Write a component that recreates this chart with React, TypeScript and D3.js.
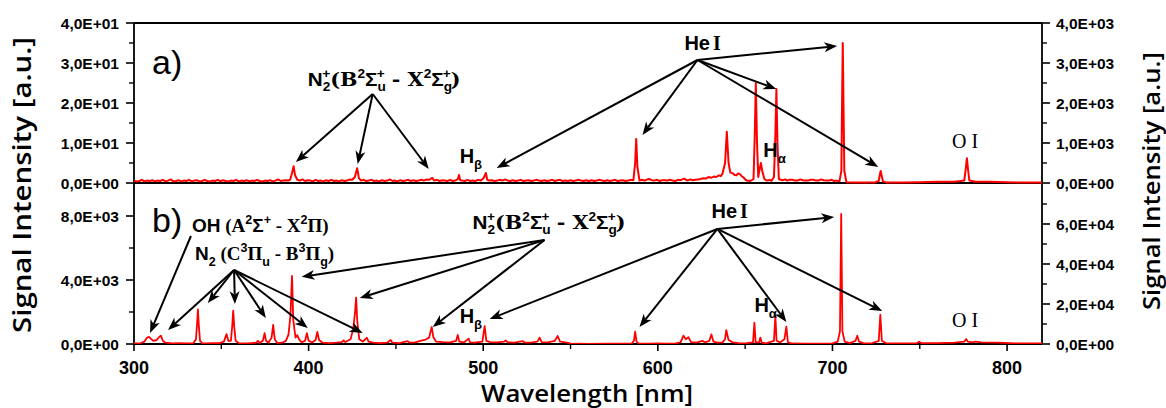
import React from 'react';
import * as d3 from 'd3';

// ---------- axis definitions ----------
const X_DOMAIN: [number, number] = [300, 820];
const X_TICKS = [300, 400, 500, 600, 700, 800];
const X_MINOR = [350, 450, 550, 650, 750];
const A_LEFT_DOMAIN: [number, number] = [0, 40];
const A_LEFT_TICKS = [0, 10, 20, 30, 40];
const A_LEFT_MINOR = [5, 15, 25, 35];
const A_RIGHT_DOMAIN: [number, number] = [0, 4000];
const A_RIGHT_TICKS = [0, 1000, 2000, 3000, 4000];
const A_RIGHT_MINOR = [500, 1500, 2500, 3500];
const B_LEFT_DOMAIN: [number, number] = [0, 10000];
const B_LEFT_TICKS = [0, 4000, 8000];
const B_LEFT_MINOR = [2000, 6000];
const B_RIGHT_DOMAIN: [number, number] = [0, 80000];
const B_RIGHT_TICKS = [0, 20000, 40000, 60000];
const B_RIGHT_MINOR = [10000, 30000, 50000, 70000];

// ---------- spectrum a) (left axis units) ----------
const SPEC_A: [number, number][] = [
  [300,0.6],[301.5,0.4],[303,0.5],[304.5,0.8],[306,0.4],[307.5,0.6],[309,0.5],[310.5,0.7],[312,0.4],[313.5,0.6],
  [315,0.5],[316.5,0.8],[318,0.4],[319.5,0.6],[321,0.9],[322.5,0.4],[324,0.5],[325.5,0.7],[327,0.4],[328.5,0.6],
  [330,0.5],[331.5,0.8],[333,0.4],[334.5,0.6],[336,0.7],[337.5,0.4],[339,0.5],[340.5,0.8],[342,0.5],[343.5,0.4],
  [345,0.6],[346.5,0.5],[348,0.8],[349.5,0.4],[351,0.7],[352.5,0.5],[354,0.4],[355.5,0.6],[357,0.5],[358.5,0.8],
  [360,0.4],[361.5,0.6],[363,0.5],[364.5,0.7],[366,0.4],[367.5,0.6],[369,0.5],[370.5,0.8],[372,0.5],[373.5,0.4],
  [375,0.6],[376.5,0.5],[378,0.7],[379.5,0.4],[381,0.6],[382.5,0.9],[384,0.5],[385.5,0.6],[387,0.7],[388.5,0.6],
  [389.5,0.9],[390.5,2.5],[391.4,4.2],[392.2,2.0],[393.5,0.8],[395,0.6],[396.5,0.9],[398,0.5],[399.5,0.7],[401,0.6],
  [402.5,0.4],[404,0.8],[405.5,0.5],[407,0.6],[408.5,0.4],[410,0.7],[411.5,0.5],[413,0.8],[414.5,0.5],[416,0.6],
  [417.5,0.4],[419,0.7],[420.5,0.5],[422,0.6],[423.5,0.9],[425,0.8],[426.5,1.5],[427.8,3.7],[428.8,1.2],
  [430,0.6],[431.5,0.8],[433,0.5],[434.5,0.6],[436,0.8],[437.5,0.5],[439,0.6],[440.5,0.4],[442,0.7],[443.5,0.5],
  [445,0.6],[446.5,0.9],[448,0.5],[449.5,0.6],[451,0.4],[452.5,0.7],[454,0.5],[455.5,0.6],[457,0.8],[458.5,0.5],
  [460,0.7],[461.5,0.5],[463,0.6],[464.5,0.8],[466,0.6],[467.5,0.9],[469,0.8],[470.8,1.3],[472,0.6],[473.5,0.8],
  [475,0.5],[476.5,0.7],[478,0.6],[479.5,0.5],[481,0.8],[482.5,0.5],[484,0.6],[485.5,1.0],[486.1,2.0],[486.8,0.7],
  [488,0.6],[489.5,0.5],[491,0.8],[492.5,0.5],[494,0.6],[495.5,0.5],[497,0.8],[498.5,0.6],[500.2,1.2],[501.5,2.5],
  [502.3,0.8],[503.5,0.6],[505,0.7],[506.5,0.5],[508,0.6],[509.5,0.8],[511,0.6],[512.5,0.9],[514,0.6],[515.5,0.5],
  [517,0.7],[518.5,0.5],[520,0.6],[521.5,0.8],[523,0.5],[524.5,0.6],[526,0.7],[527.5,0.5],[529,0.6],[530.5,0.8],
  [532,0.6],[533.5,0.5],[535,0.7],[536.5,0.5],[538,0.6],[539.5,0.8],[541,0.5],[542.5,0.7],[544,0.8],[545.5,0.5],
  [547,0.6],[548.5,0.5],[550,0.7],[551.5,0.5],[553,0.6],[554.5,0.8],[556,0.6],[557.5,0.5],[559,0.7],[560.5,0.5],
  [562,0.7],[563.5,0.5],[565,0.6],[566.5,0.8],[568,0.6],[569.5,0.5],[571,0.7],[572.5,0.5],[574,0.6],[575.5,0.8],
  [577,0.5],[578.5,0.6],[580,0.7],[581.5,0.5],[583,0.6],[584.5,0.8],[586,0.7],[587,5],
  [587.6,11],[588.3,4],[589.5,0.6],[591,0.8],[592.5,0.6],[594,0.9],[595,1.0],[596.5,0.7],[598,0.6],[599.5,0.8],
  [601,0.5],[602.5,0.7],[604,0.7],[605.5,0.6],[607,0.8],[608.5,0.6],[610,0.5],[611.5,0.8],[613,0.7],[615,1.1],
  [617,0.6],[618.5,0.9],[620,0.7],[621.5,0.8],[623,0.9],[624.5,1.0],[626,1.2],[627.5,1.1],[629,1.5],[630.5,1.3],
  [632,1.6],[633.5,1.5],[635,1.9],[636,1.7],[637,2.3],
  [638.5,5],[639.5,12.8],[640.5,5],[641.5,2.6],[643,2.4],[644,2.0],[645,1.9],[646,2.4],[647,2.2],[648,1.7],[649,1.4],
  [650,0.9],[651,0.6],[653,0.5],
  [654.8,1.0],[655.5,12],[656.1,25],[656.8,10],[657.5,1.5],[658.3,3.5],[659,5],[659.8,3],[661,1.0],[662,0.7],[663,0.6],
  [664,0.8],[665,0.5],[666.5,1.5],[667.3,12],[667.9,23.5],[668.5,10],[669.3,1.0],[670.5,0.8],[671.5,0.7],[673,0.9],
  [674,0.6],[675.5,0.8],[677,0.8],[678.5,0.6],[680,0.6],[681.5,0.9],[683,0.7],[684.5,0.6],[686,0.6],[687.5,0.8],
  [689,0.8],[690.5,0.6],[692,0.6],[693.5,0.9],[695,0.7],[696.5,0.6],[698,0.6],[699.5,0.8],[701,0.5],[702.5,0.6],
  [704,0.4],[705.1,3],
  [705.5,20],[705.9,35],[706.3,20],[706.8,3],[708,0.2],[712,0.1],[716,0.1],[720,0.1],[724,0.1],[726.5,0.5],
  [727.1,2.0],[727.6,3],[728.1,2.0],[728.9,0.4],[731,0.1],[740,0.1],[750,0.2],[760,0.3],[770,0.3],
  [775.5,0.6],[776.3,3.5],[777.0,6.2],[777.6,3.5],[778.4,0.6],[782,0.3],[790,0.3],[800,0.2],[810,0.1],[820,0.1]
];

// ---------- spectrum b) (left axis units) ----------
const SPEC_B: [number, number][] = [
  [300,30],[304,60],[306,150],[307.5,400],[308.6,450],[309.5,350],[311,200],[313,250],[314.5,450],[315.4,520],
  [316.5,200],[318,80],[322,40],[326,60],[330,40],[334,60],[335.5,300],[336.2,1400],[336.6,2170],[337.1,1200],
  [337.8,200],[339,60],[341,40],[345,50],[349,60],[351.5,150],[353,620],[354,200],[355.5,200],[356.3,1200],
  [356.8,2080],[357.4,1100],[358.2,200],[360,60],[364,40],[367,60],[370,80],[371,200],[372,60],[373.8,200],
  [374.8,680],[375.6,200],[377,80],[378.8,400],[379.7,1190],[380.6,300],[382,60],[385,80],[387,200],
  [388.5,600],[389.6,1800],[390.5,4250],[391.2,1500],[392.5,400],[393.5,550],[394.5,300],[396,100],[398,200],
  [399,680],[400,200],[402,100],[404,250],[405,750],[406,250],[408,80],[412,60],[416,80],[419,120],[420,220],
  [421,120],[424,300],[425.5,900],[426.6,2000],[427.2,2900],[427.8,1500],[429,300],[431,150],[433.4,390],
  [434.3,150],[437,80],[441,60],[445,80],[447,250],[448,80],[452,60],[456.7,180],[458,80],[461,100],[464,200],
  [467,280],[469,400],[470.5,1060],[471.5,400],[473,150],[477,120],[481,100],[484.5,200],[485.4,560],
  [486.3,150],[489,100],[491.6,330],[492.5,100],[495,80],[499.5,150],[500.8,1120],[501.8,200],[504,120],
  [508,100],[512,150],[512.8,220],[514,100],[518,80],[522.5,180],[524,80],[528,100],[531,150],[532.3,390],
  [533.5,120],[537,100],[541,200],[542.6,500],[544,150],[547,100],[549.4,60],[549.5,10],[555,20],[560,10],
  [570,20],[580,20],[585,20],[586.3,200],[587,770],[587.8,150],[589,20],[595,20],[600,30],[605,20],[610,40],
  [613,100],[614.7,520],[616,300],[617.5,430],[619,120],[622,80],[625.5,200],[627,100],[629.5,200],[630.7,600],
  [631.8,150],[634,80],[637,100],[638.5,300],[639.2,870],[640.5,250],[643,100],[646,60],[650,40],[654.5,100],
  [655.3,1330],[656,100],[658,100],[658.7,400],[659.5,80],[662,40],[666.5,200],[667.3,1770],[668,200],[670,100],
  [672.5,300],[673.6,1080],[674.5,100],[677,30],[685,20],[695,20],[700,40],[703,150],[704.3,800],[705,8125],
  [705.7,800],[707,150],[710,60],[713.2,200],[714.2,520],[715.2,150],[718,40],[722,30],[726.5,200],[727.4,1830],
  [728.3,200],[731,30],[740,30],[748.5,60],[749.7,150],[750.8,60],[760,60],[770,80],[775.6,150],[776.6,310],
  [777.5,150],[780,100],[782,150],[785,100],[795,80],[805,40],[820,30]
];

// ---------- annotations (data coordinates) ----------
const A_N2P_FROM: [number, number] = [436.7, 22.25];
const A_N2P_TO: [number, number][] = [[392.7, 5.25], [428.1, 4.75], [468.8, 3.5]];
const A_HE_FROM: [number, number] = [622.7, 30.75];
const A_HE_TO: [number, number][] = [[507.7, 3.75], [591.2, 12], [667.8, 23.5], [702.7, 34.25], [726.2, 4]];
const B_OH_FROM: [number, number] = [332.6, 6750];
const B_OH_TO: [number, number][] = [[309.2, 690]];
const B_N2_FROM: [number, number] = [357.3, 4625];
const B_N2_TO: [number, number][] = [[319.5, 875], [342.3, 2560], [357.8, 2500], [375.5, 1625], [399.5, 1000], [431.0, 690]];
const B_N2P_FROM: [number, number] = [535.1, 6500];
const B_N2P_TO: [number, number][] = [[396.0, 4200], [429.3, 2875], [471.1, 1060]];
const B_HE_FROM: [number, number] = [634.1, 7190];
const B_HE_TO: [number, number][] = [[503.7, 1560], [589.5, 1060], [673.6, 1375], [701.0, 7940], [728.5, 2060]];

const A_LABEL_PANEL: [number, number] = [310.3, 27.25];
const A_LABEL_N2P: [number, number] = [399.5, 24.25];
const A_LABEL_HE: [number, number] = [615.2, 33.25];
const A_LABEL_HB: [number, number] = [486.5, 5];
const A_LABEL_HA: [number, number] = [660.4, 6.5];
const A_LABEL_OI: [number, number] = [768.5, 8.75];
const B_LABEL_PANEL: [number, number] = [310.3, 7000];
const B_LABEL_OH: [number, number] = [333.2, 7000];
const B_LABEL_N2: [number, number] = [334.9, 5250];
const B_LABEL_N2P: [number, number] = [493.9, 7190];
const B_LABEL_HE: [number, number] = [630.7, 7875];
const B_LABEL_HB: [number, number] = [486.5, 1310];
const B_LABEL_HA: [number, number] = [655.3, 2000];
const B_LABEL_OI: [number, number] = [768.5, 1060];

const SANS = "'Liberation Sans', Arial, sans-serif";
const SERIF = "'DejaVu Serif', 'Liberation Serif', serif";
const SERIF2 = "'Liberation Serif', 'Times New Roman', serif";
const TITLE = "'Open Sans', Lato, sans-serif";

function fmt(v: number): string {
  if (v === 0) return '0,0E+00';
  const [m, e] = v.toExponential(1).split('e');
  const ex = parseInt(e, 10);
  return m.replace('.', ',') + 'E' + (ex < 0 ? '-' : '+') + String(Math.abs(ex)).padStart(2, '0');
}

type Seg = { t: string; f?: 'sans' | 'serif' | 'serif2'; k?: 'sup' | 'sub'; dx?: number };

function Rich({ x, y, segs, size, weight = 'bold', sx = 1 }: { x: number; y: number; segs: Seg[]; size: number; weight?: string; sx?: number }) {
  let cur = 0;
  return (
    <g transform={`translate(${x},${y}) scale(${sx},1)`}>
      <text x={0} y={0} fontSize={size} fontWeight={weight} style={{ whiteSpace: 'pre' }} fill="#000">
        {segs.map((s, i) => {
          const target = s.k === 'sup' ? -size * 0.42 : s.k === 'sub' ? size * 0.3 : 0;
          const dy = target - cur;
          cur = target;
          const fam = s.f === 'serif' ? SERIF : s.f === 'serif2' ? SERIF2 : SANS;
          return (
            <tspan key={i} dy={dy} dx={s.dx || 0} fontFamily={fam} fontSize={s.k ? size * 0.66 : size}>
              {s.t}
            </tspan>
          );
        })}
      </text>
    </g>
  );
}

function Arrow({ x1, y1, x2, y2 }: { x1: number; y1: number; x2: number; y2: number }) {
  const dx = x2 - x1, dy = y2 - y1;
  const len = Math.hypot(dx, dy);
  const ux = dx / len, uy = dy / len;
  const hl = 13, hw = 5;
  const bx = x2 - ux * hl, by = y2 - uy * hl;
  const nx = -uy, ny = ux;
  const mx = x2 - ux * hl * 0.72, my = y2 - uy * hl * 0.72;
  return (
    <g>
      <line x1={x1} y1={y1} x2={mx} y2={my} stroke="#000" strokeWidth={2} />
      <polygon points={`${x2},${y2} ${bx + nx * hw},${by + ny * hw} ${mx},${my} ${bx - nx * hw},${by - ny * hw}`} fill="#000" />
    </g>
  );
}

export default function App() {
  const L = 134, R = 1042, aT = 23, aB = 183, bT = 184, bB = 344;
  const x = d3.scaleLinear().domain(X_DOMAIN).range([L, R]);
  const yA = d3.scaleLinear().domain(A_LEFT_DOMAIN).range([aB, aT]);
  const yAR = d3.scaleLinear().domain(A_RIGHT_DOMAIN).range([aB, aT]);
  const yB = d3.scaleLinear().domain(B_LEFT_DOMAIN).range([bB, bT]);
  const yBR = d3.scaleLinear().domain(B_RIGHT_DOMAIN).range([bB, bT]);
  const lineA = d3.line<[number, number]>().x(d => x(d[0])).y(d => yA(d[1]));
  const lineB = d3.line<[number, number]>().x(d => x(d[0])).y(d => yB(d[1]));

  const leftAxis = (s: d3.ScaleLinear<number, number>, ticks: number[], minor: number[], key: string) => (
    <g key={key}>
      {ticks.map(t => (
        <g key={'t' + t}>
          <line x1={L - 8} x2={L} y1={s(t)} y2={s(t)} stroke="#000" strokeWidth={1.6} />
          <text x={L - 15} y={s(t)} dy="0.36em" textAnchor="end" fontFamily={SANS} fontWeight="bold" fontSize={15.5}>{fmt(t)}</text>
        </g>
      ))}
      {minor.map(t => <line key={'m' + t} x1={L - 5} x2={L} y1={s(t)} y2={s(t)} stroke="#000" strokeWidth={1.4} />)}
    </g>
  );
  const rightAxis = (s: d3.ScaleLinear<number, number>, ticks: number[], minor: number[], key: string) => (
    <g key={key}>
      {ticks.map(t => (
        <g key={'t' + t}>
          <line x1={R} x2={R + 8} y1={s(t)} y2={s(t)} stroke="#000" strokeWidth={1.6} />
          <text x={R + 14} y={s(t)} dy="0.36em" textAnchor="start" fontFamily={SANS} fontWeight="bold" fontSize={15.5}>{fmt(t)}</text>
        </g>
      ))}
      {minor.map(t => <line key={'m' + t} x1={R} x2={R + 5} y1={s(t)} y2={s(t)} stroke="#000" strokeWidth={1.4} />)}
    </g>
  );

  const arrows = (from: [number, number], tos: [number, number][], sy: d3.ScaleLinear<number, number>, key: string) =>
    tos.map((t, i) => <Arrow key={key + i} x1={x(from[0])} y1={sy(from[1])} x2={x(t[0])} y2={sy(t[1])} />);

  const n2pSegs: Seg[] = [
    { t: 'N' }, { t: '2', k: 'sub' }, { t: '+', k: 'sup', dx: -7 },
    { t: '(B', f: 'serif' }, { t: '2', k: 'sup' }, { t: 'Σ' }, { t: 'u', k: 'sub' }, { t: '+', k: 'sup', dx: -8 },
    { t: ' - X', f: 'serif' }, { t: '2', k: 'sup' }, { t: 'Σ' }, { t: 'g', k: 'sub' }, { t: '+', k: 'sup', dx: -8 },
    { t: ')', f: 'serif' }
  ];
  const ohSegs: Seg[] = [
    { t: 'OH' }, { t: ' (A', f: 'serif2' }, { t: '2', k: 'sup' }, { t: 'Σ' }, { t: '+', k: 'sup' },
    { t: ' - X', f: 'serif2' }, { t: '2', k: 'sup' }, { t: 'Π', f: 'serif2' }, { t: ')', f: 'serif2' }
  ];
  const n2Segs: Seg[] = [
    { t: 'N' }, { t: '2', k: 'sub' }, { t: ' (C', f: 'serif2' }, { t: '3', k: 'sup' }, { t: 'Π', f: 'serif2' }, { t: 'u', k: 'sub' },
    { t: ' - B', f: 'serif2' }, { t: '3', k: 'sup' }, { t: 'Π', f: 'serif2' }, { t: 'g', k: 'sub' }, { t: ')', f: 'serif2' }
  ];
  const heSegs: Seg[] = [{ t: 'He' }, { t: 'I', f: 'serif2', dx: 3 }];
  const hbSegs: Seg[] = [{ t: 'H' }, { t: 'β', k: 'sub' }];
  const haSegs: Seg[] = [{ t: 'H' }, { t: 'α', k: 'sub' }];

  return (
    <svg width={1166} height={408} style={{ position: 'absolute', left: 0, top: 0, background: '#fff' }}>
      <defs>
        <clipPath id="clipA"><rect x={L} y={aT} width={R - L} height={aB - aT + 1} /></clipPath>
        <clipPath id="clipB"><rect x={L} y={bT - 1} width={R - L} height={bB - bT + 1} /></clipPath>
      </defs>

      {/* axes frames */}
      <line x1={L} x2={R} y1={aT} y2={aT} stroke="#000" strokeWidth={1.8} />
      <line x1={L} x2={R} y1={aB} y2={aB} stroke="#000" strokeWidth={1.8} />
      <line x1={L} x2={R} y1={bB} y2={bB} stroke="#000" strokeWidth={1.8} />
      <line x1={L} x2={L} y1={aT} y2={bB} stroke="#000" strokeWidth={1.8} />
      <line x1={R} x2={R} y1={aT} y2={bB} stroke="#000" strokeWidth={1.8} />

      {leftAxis(yA, A_LEFT_TICKS, A_LEFT_MINOR, 'la')}
      {rightAxis(yAR, A_RIGHT_TICKS, A_RIGHT_MINOR, 'ra')}
      {leftAxis(yB, B_LEFT_TICKS, B_LEFT_MINOR, 'lb')}
      {rightAxis(yBR, B_RIGHT_TICKS, B_RIGHT_MINOR, 'rb')}

      {X_TICKS.map(t => (
        <g key={'x' + t}>
          <line x1={x(t)} x2={x(t)} y1={bB} y2={bB + 7} stroke="#000" strokeWidth={1.6} />
          <text x={x(t)} y={bB + 30} textAnchor="middle" fontFamily={SANS} fontWeight="bold" fontSize={18}>{t}</text>
        </g>
      ))}
      {X_MINOR.map(t => <line key={'xm' + t} x1={x(t)} x2={x(t)} y1={bB} y2={bB + 5} stroke="#000" strokeWidth={1.4} />)}

      {/* spectra */}
      <path d={lineA(SPEC_A) || ''} fill="none" stroke="#ff0000" strokeWidth={2} strokeLinejoin="round" clipPath="url(#clipA)" />
      <path d={lineB(SPEC_B) || ''} fill="none" stroke="#ff0000" strokeWidth={1.8} strokeLinejoin="round" clipPath="url(#clipB)" />

      {/* annotations a) */}
      <text x={x(A_LABEL_PANEL[0])} y={yA(A_LABEL_PANEL[1])} fontFamily={SANS} fontSize={34}>a)</text>
      <Rich x={x(A_LABEL_N2P[0])} y={yA(A_LABEL_N2P[1])} segs={n2pSegs} size={18} sx={1.15} />
      <Rich x={x(A_LABEL_HE[0])} y={yA(A_LABEL_HE[1])} segs={heSegs} size={20} />
      <Rich x={x(A_LABEL_HB[0])} y={yA(A_LABEL_HB[1])} segs={hbSegs} size={20} />
      <Rich x={x(A_LABEL_HA[0])} y={yA(A_LABEL_HA[1])} segs={haSegs} size={20} />
      <text x={x(A_LABEL_OI[0])} y={yA(A_LABEL_OI[1])} fontFamily={SERIF2} fontSize={20} style={{ whiteSpace: 'pre' }}>O I</text>
      {arrows(A_N2P_FROM, A_N2P_TO, yA, 'an')}
      {arrows(A_HE_FROM, A_HE_TO, yA, 'ah')}

      {/* annotations b) */}
      <text x={x(B_LABEL_PANEL[0])} y={yB(B_LABEL_PANEL[1])} fontFamily={SANS} fontSize={34}>b)</text>
      <Rich x={x(B_LABEL_OH[0])} y={yB(B_LABEL_OH[1])} segs={ohSegs} size={19} />
      <Rich x={x(B_LABEL_N2[0])} y={yB(B_LABEL_N2[1])} segs={n2Segs} size={19} />
      <Rich x={x(B_LABEL_N2P[0])} y={yB(B_LABEL_N2P[1])} segs={n2pSegs} size={18} sx={1.15} />
      <Rich x={x(B_LABEL_HE[0])} y={yB(B_LABEL_HE[1])} segs={heSegs} size={20} />
      <Rich x={x(B_LABEL_HB[0])} y={yB(B_LABEL_HB[1])} segs={hbSegs} size={20} />
      <Rich x={x(B_LABEL_HA[0])} y={yB(B_LABEL_HA[1])} segs={haSegs} size={20} />
      <text x={x(B_LABEL_OI[0])} y={yB(B_LABEL_OI[1])} fontFamily={SERIF2} fontSize={20} style={{ whiteSpace: 'pre' }}>O I</text>
      {arrows(B_OH_FROM, B_OH_TO, yB, 'bo')}
      {arrows(B_N2_FROM, B_N2_TO, yB, 'bn')}
      {arrows(B_N2P_FROM, B_N2P_TO, yB, 'bp')}
      {arrows(B_HE_FROM, B_HE_TO, yB, 'bh')}

      {/* axis titles */}
      <text transform="translate(31,185) rotate(-90)" textAnchor="middle" fontFamily={TITLE} fontWeight={600} fontSize={25} textLength={296} lengthAdjust="spacingAndGlyphs">Signal Intensity [a.u.]</text>
      <text transform="translate(1160,181) rotate(-90)" textAnchor="middle" fontFamily={TITLE} fontWeight={600} fontSize={24} textLength={258} lengthAdjust="spacingAndGlyphs">Signal Intensity [a.u.]</text>
      <text x={587} y={402} textAnchor="middle" fontFamily={TITLE} fontWeight={600} fontSize={23} textLength={212} lengthAdjust="spacingAndGlyphs">Wavelength [nm]</text>
    </svg>
  );
}
